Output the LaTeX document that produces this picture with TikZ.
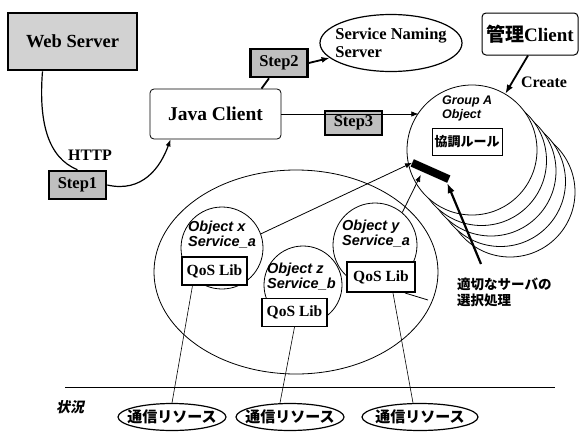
\documentclass[tikz,border=0pt]{standalone}
\usepackage{fontspec}
\setmainfont{Liberation Serif}
\newfontfamily\hel{Liberation Sans}
\newfontfamily\cjk{Noto Sans CJK JP}
\newfontfamily\cjksl[FakeSlant=0.2]{Noto Sans CJK JP}
\usetikzlibrary{arrows.meta,shapes.geometric}

\begin{document}
\begin{tikzpicture}[x=1pt,y=-1pt,
stepbox/.style={draw,line width=2.6pt,fill=gray!50,minimum width=57,minimum height=28,inner sep=1pt,font=\bfseries\fontsize{16.5}{16.5}\selectfont},
qosbox/.style={draw,line width=1.2pt,fill=white,minimum width=65,minimum height=28,inner sep=1pt,font=\bfseries\fontsize{15.5}{15.5}\selectfont},
objcirc/.style={circle,draw,line width=0.8pt},
objtext/.style={align=left,inner sep=0pt,font=\hel\bfseries\itshape\fontsize{14.5}{14.5}\selectfont},
resell/.style={ellipse,draw,line width=1.2pt,minimum width=108,minimum height=27,inner xsep=-8pt,inner ysep=2pt,font=\cjk\bfseries\fontsize{15}{15}\selectfont},
grpcirc/.style={circle,draw,line width=0.8pt,fill=white,minimum size=130},
lbl/.style={inner sep=0pt,font=\bfseries\fontsize{16}{16}\selectfont}]
\useasboundingbox (0,0) rectangle (581,434);
% host of the objects
\node[ellipse,draw,line width=0.8pt,minimum width=284,minimum height=204] (host) at (296,272) {};
\node[objcirc,minimum size=82] (objx) at (222,248) {};
\node[objtext,anchor=north west] (objxt) at (188,221) {Object x\\Service\_a};
\node[qosbox] (qosx) at (214.5,271) {QoS Lib};
\node[objcirc,minimum size=78] (objz) at (303,285) {};
\node[objtext,anchor=north west] (objzt) at (267,263) {Object z\\Service\_b};
\node[qosbox] (qosz) at (294.5,312.5) {QoS Lib};
\node[objcirc,minimum size=84] (objy) at (375,245) {};
\node[objtext,anchor=north west] (objyt) at (342,220) {Object y\\Service\_a};
\node[qosbox,line width=2pt,minimum width=68,minimum height=30] (qosy) at (381,277) {QoS Lib};
% top row
\node[draw,line width=2.6pt,fill=gray!35,minimum width=129,minimum height=57,font=\bfseries\fontsize{18.5}{18.5}\selectfont] (web) at (72.5,41.5) {Web Server};
\node[draw,rounded corners=4pt,line width=0.8pt,minimum width=131,minimum height=50,font=\bfseries\fontsize{19.5}{19.5}\selectfont] (java) at (215.5,114) {Java Client};
\node[stepbox] (step1) at (77.5,185) {Step1};
\node[stepbox] (step2) at (279,63) {Step2};
\node[stepbox,minimum height=24] (step3) at (353.5,123) {Step3};
\node[lbl] (http) at (90,155) {HTTP};
\node[ellipse,draw,line width=1.2pt,minimum width=142,minimum height=57,inner xsep=-6pt,inner ysep=0pt,align=left,font=\bfseries\fontsize{16.5}{17.5}\selectfont] (naming) at (391,43) {Service Naming\\Server};
\node[draw,rounded corners=4pt,line width=1pt,minimum width=96,minimum height=42,inner sep=1pt,font=\bfseries\fontsize{19}{19}\selectfont] (admin) at (530,34) {{\cjk 管理}Client};
\node[lbl] (create) at (544,82) {Create};
% group A
\foreach \k in {4,3,2,1}
  \node[grpcirc] (grp\k) at (472+9.5*\k,150+10.5*\k) {};
\node[grpcirc] (grp) at (472,150) {};
\node[objtext,anchor=north west,font=\hel\bfseries\itshape\fontsize{12.5}{13.5}\selectfont] (grpt) at (442,96) {Group A\\Object};
\node[draw,line width=1pt,fill=white,minimum width=70,minimum height=27,inner sep=1pt,font=\cjk\bfseries\fontsize{13}{13}\selectfont] (rule) at (467,141.5) {協調ルール};
\node[fill=black,minimum width=40,minimum height=8,inner sep=0pt,rotate=-24] (bar) at (430.5,171) {};
\node[anchor=north west,align=left,inner sep=0pt,font=\cjk\bfseries\fontsize{13.5}{16}\selectfont] (sel) at (457,278) {適切なサーバの\\選択処理};
% resources
\draw[line width=0.8pt] (65,387) -- (555,387);
\node[anchor=west,inner sep=0pt,font=\cjksl\bfseries\fontsize{14}{14}\selectfont] (sit) at (56,407) {状況};
\node[resell] (res1) at (172,417) {通信リソース};
\node[resell] (res2) at (290,417) {通信リソース};
\node[resell,minimum width=116] (res3) at (420,417) {通信リソース};
% connectors
\draw[line width=1.2pt] ([xshift=-30pt]web.south) .. controls +(-4,50) and +(-30,-12) .. (step1.north);
\draw[line width=1.2pt,-{Latex[length=7pt]}] (step1.east) .. controls +(35,8) and +(-10,28) .. ([xshift=-45pt]java.south);
\draw[line width=1.8pt] ([xshift=46pt]java.north) -- ([xshift=-10pt]step2.south);
\draw[line width=1.8pt,-{Latex[length=8pt]}] (step2.east) -- (naming);
\draw[line width=0.6pt,-{Latex[length=7pt]}] (java.east) -- (java.east -| grp.145);
\draw[line width=1.8pt,-{Latex[length=9pt]}] ([xshift=-2pt]admin.south) -- (grp);
\draw[line width=0.8pt,-{Latex[length=7pt]}] (objx.20) -- (bar.west);
\draw[line width=0.8pt,-{Latex[length=7pt]}] (objy.50) -- ([xshift=-8pt]bar.south);
\draw[line width=2.2pt,-{Latex[length=10pt]}] ([xshift=24pt,yshift=14pt]sel.north west) -- (bar.south east);
\draw[line width=0.6pt] ([xshift=-22pt]qosx.south) -- (res1.north);
\draw[line width=0.6pt] (qosz.south) -- ([xshift=-10pt]res2.north);
\draw[line width=0.6pt] ([xshift=12pt]qosy.south) -- ([xshift=-7pt]res3.north);
\coordinate (tail) at (428,300);
\draw[line width=0.8pt] ([xshift=-11pt]qosy.south east) -- (tail);
\end{tikzpicture}
\end{document}
